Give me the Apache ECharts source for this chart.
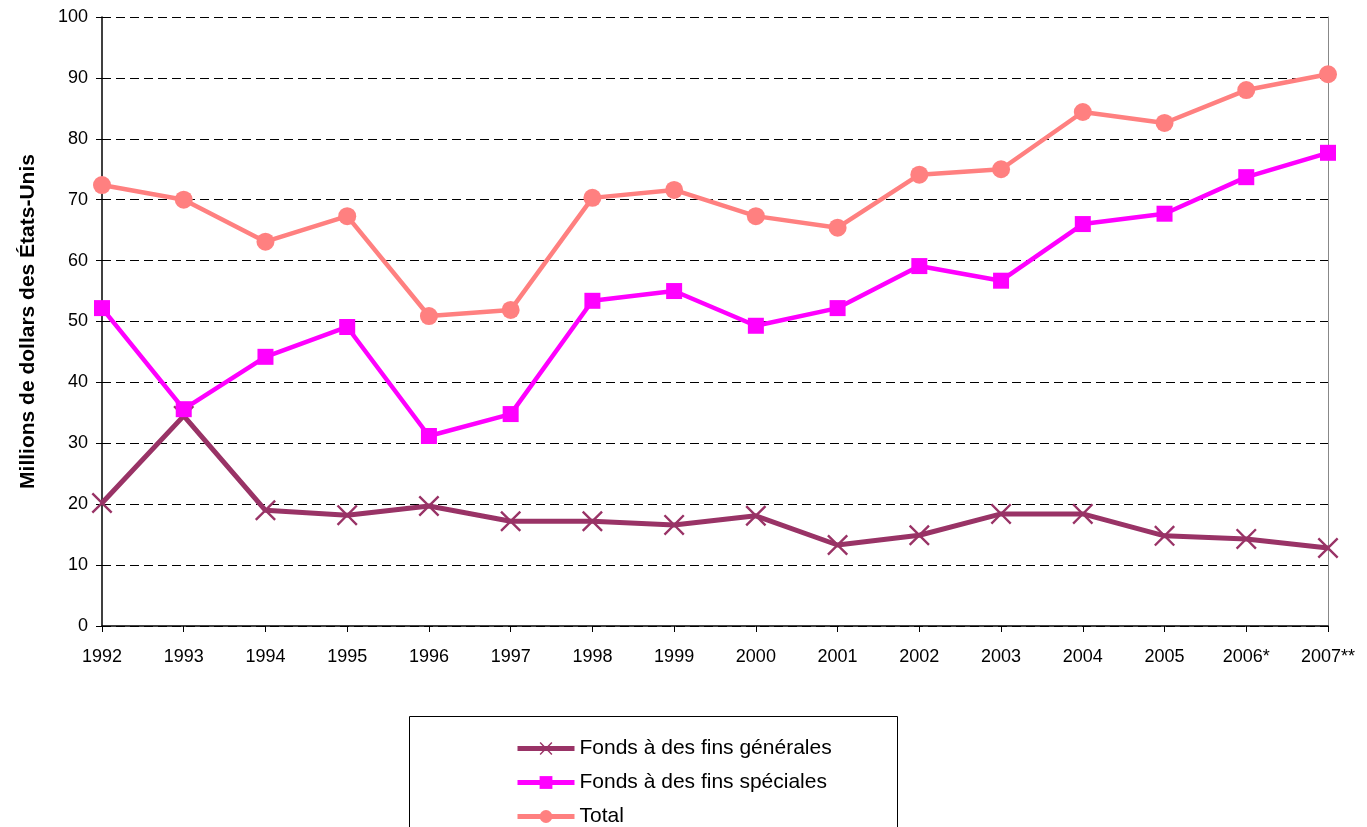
<!DOCTYPE html>
<html>
<head>
<meta charset="utf-8">
<script src="https://cdn.jsdelivr.net/npm/echarts@6/dist/echarts.min.js"></script>
<style>
  html, body { margin: 0; padding: 0; background: #fff; }
  #chart { width: 1367px; height: 827px; }
</style>
</head>
<body>
<div id="chart"></div>
<script>
// annees (axe x)
var years = ['1992', '1993', '1994', '1995', '1996', '1997', '1998', '1999',
             '2000', '2001', '2002', '2003', '2004', '2005', '2006*', '2007**'];

// Fonds à des fins générales
var generalFunds = [20.2, 34.5, 19.0, 18.2, 19.7, 17.2, 17.2, 16.6,
                    18.1, 13.3, 14.9, 18.4, 18.4, 14.8, 14.3, 12.8];
// Fonds à des fins spéciales
var specialFunds = [52.2, 35.6, 44.2, 49.1, 31.2, 34.8, 53.4, 55.0,
                    49.3, 52.2, 59.1, 56.7, 66.0, 67.7, 73.7, 77.7];
// Total
var totalFunds = [72.4, 70.0, 63.1, 67.3, 50.9, 51.9, 70.3, 71.6,
                  67.3, 65.4, 74.1, 75.0, 84.4, 82.6, 88.0, 90.6];

var seriesNames = ['Fonds à des fins générales', 'Fonds à des fins spéciales', 'Total'];

var font = '"Liberation Sans", Arial, sans-serif';
// croix (X) pour la premiere serie
var crossPath = 'path://M0,0.8L0.8,0L5,4.2L9.2,0L10,0.8L5.8,5L10,9.2L9.2,10L5,5.8L0.8,10L0,9.2L4.2,5Z';

// une legende par ligne, empilees verticalement
var legendTops = [733, 767, 801];
var legends = [];
for (var i = 0; i < seriesNames.length; i++) {
    legends.push({
        orient: 'horizontal',
        left: 510,
        top: legendTops[i],
        itemWidth: 57,
        itemHeight: 16,
        data: [seriesNames[i]],
        lineStyle: { width: 5 },
        textStyle: { fontFamily: font, fontSize: 21, color: '#000' }
    });
}

var option = {
    backgroundColor: '#fff',
    animation: false,
    grid: {
        left: 102,
        right: 39,
        top: 17,
        bottom: 201
    },
    legend: legends,
    graphic: [{
        type: 'rect',
        shape: { x: 409.5, y: 716.5, width: 488, height: 130 },
        style: { fill: 'none', stroke: '#000', lineWidth: 1 },
        z: 0
    }],
    xAxis: {
        type: 'category',
        boundaryGap: false,
        data: years,
        axisLine: { lineStyle: { color: '#000', width: 1.5 } },
        axisTick: { show: true, length: 6, alignWithLabel: true, lineStyle: { color: '#000' } },
        axisLabel: { fontFamily: font, fontSize: 18, color: '#000', margin: 22, interval: 0 },
        splitLine: { show: false }
    },
    yAxis: [{
        type: 'value',
        min: 0,
        max: 100,
        interval: 10,
        name: 'Millions de dollars des États-Unis',
        nameLocation: 'middle',
        nameGap: 63,
        nameTextStyle: { fontFamily: font, fontSize: 21, fontWeight: 'bold', color: '#000' },
        axisLine: { show: true, lineStyle: { color: '#000', width: 1.5 } },
        axisTick: { show: true, length: 6, lineStyle: { color: '#000' } },
        axisLabel: { fontFamily: font, fontSize: 18, color: '#000', margin: 14 },
        splitLine: { show: true, lineStyle: { color: '#000', type: [9, 5], width: 1 } }
    }, {
        type: 'value',
        min: 0,
        max: 100,
        interval: 10,
        position: 'right',
        axisLine: { show: true, lineStyle: { color: '#888', width: 1 } },
        axisTick: { show: false },
        axisLabel: { show: false },
        splitLine: { show: false }
    }],
    series: [{
        name: seriesNames[0],
        type: 'line',
        data: generalFunds,
        symbol: crossPath,
        symbolSize: 21,
        showAllSymbol: true,
        lineStyle: { color: '#993366', width: 5 },
        itemStyle: { color: '#993366' },
        z: 3
    }, {
        name: seriesNames[1],
        type: 'line',
        data: specialFunds,
        symbol: 'rect',
        symbolSize: 16,
        showAllSymbol: true,
        lineStyle: { color: '#ff00ff', width: 4.5 },
        itemStyle: { color: '#ff00ff' },
        z: 4
    }, {
        name: seriesNames[2],
        type: 'line',
        data: totalFunds,
        symbol: 'circle',
        symbolSize: 18,
        showAllSymbol: true,
        lineStyle: { color: '#ff8080', width: 4.5 },
        itemStyle: { color: '#ff8080' },
        z: 5
    }]
};

var myChart = echarts.init(document.getElementById('chart'));
myChart.setOption(option);
</script>
</body>
</html>
